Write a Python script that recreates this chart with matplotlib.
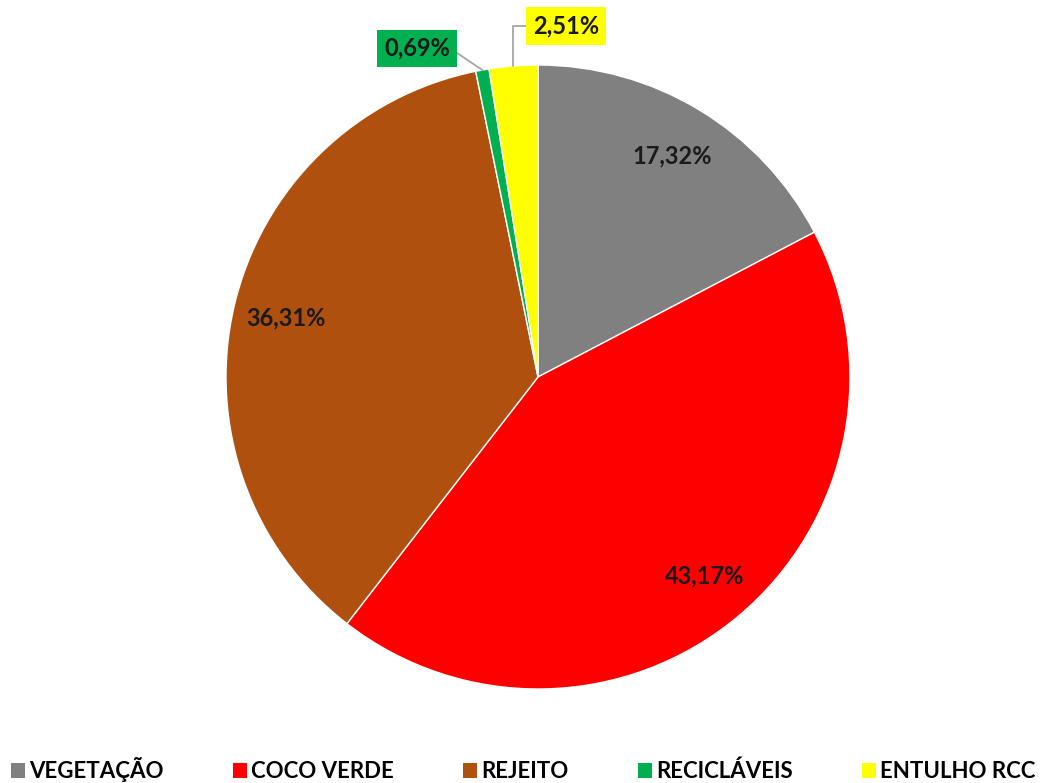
import matplotlib.pyplot as plt
import numpy as np
from matplotlib.patches import Patch

plt.rcParams['font.family'] = ['Lato', 'DejaVu Sans']
plt.rcParams['font.weight'] = 'bold'

categories = ["VEGETAÇÃO", "COCO VERDE", "REJEITO", "RECICLÁVEIS", "ENTULHO RCC"]
values = [17.32, 43.17, 36.31, 0.69, 2.51]
colors = ["#808080", "#FF0000", "#B0500F", "#00B050", "#FFFF00"]
labels = [f"{v:.2f}".replace(".", ",") + "%" for v in values]

W, H = 1053, 783
fig = plt.figure(figsize=(W / 100, H / 100), dpi=100)
cx, cy, r = 538, 377, 312
ax = fig.add_axes([(cx - r) / W, (H - cy - r) / H, 2 * r / W, 2 * r / H])

wedges, _ = ax.pie(values, colors=colors, startangle=90, counterclock=False,
                   radius=1, wedgeprops=dict(linewidth=1, edgecolor="white"))
ax.set_xlim(-1, 1)
ax.set_ylim(-1, 1)
ax.set_aspect("equal")
ax.axis("off")

# big slices: labels inside
for w, lab, v in zip(wedges, labels, values):
    if v < 5:
        continue
    a = np.deg2rad((w.theta1 + w.theta2) / 2)
    ax.text(0.83 * np.cos(a), 0.83 * np.sin(a), lab, ha="center", va="center",
            fontsize=17, fontweight="bold", color="#1a1a1a")

# small slices: boxed labels with leader lines
small = {3: ((-0.388, 1.054), "arc3", (1, 0.5)),
         4: ((0.09, 1.125), "angle,angleA=0,angleB=90,rad=0", (0, 0.5))}
for i, ((tx, ty), conn, rp) in small.items():
    w = wedges[i]
    a = np.deg2rad((w.theta1 + w.theta2) / 2)
    ax.annotate(labels[i], xy=(np.cos(a), np.sin(a)), xytext=(tx, ty),
                ha="center", va="center", fontsize=17, fontweight="bold",
                color="#1a1a1a", annotation_clip=False,
                bbox=dict(boxstyle="square,pad=0.3", fc=colors[i], ec="none"),
                arrowprops=dict(arrowstyle="-", color="#a6a6a6", lw=1.3,
                                shrinkA=0, shrinkB=0, relpos=rp,
                                connectionstyle=conn))

handles = [Patch(facecolor=c, edgecolor="none") for c in colors]
fig.legend(handles, categories, loc="center", bbox_to_anchor=(0.497, 1 - 770 / H),
           ncol=5, frameon=False, handlelength=0.63, handleheight=0.63,
           handletextpad=0.2, columnspacing=3.1,
           prop=dict(family=["Lato", "DejaVu Sans"], weight="bold", size=16))

fig.savefig("out.png", dpi=100, facecolor="white")
